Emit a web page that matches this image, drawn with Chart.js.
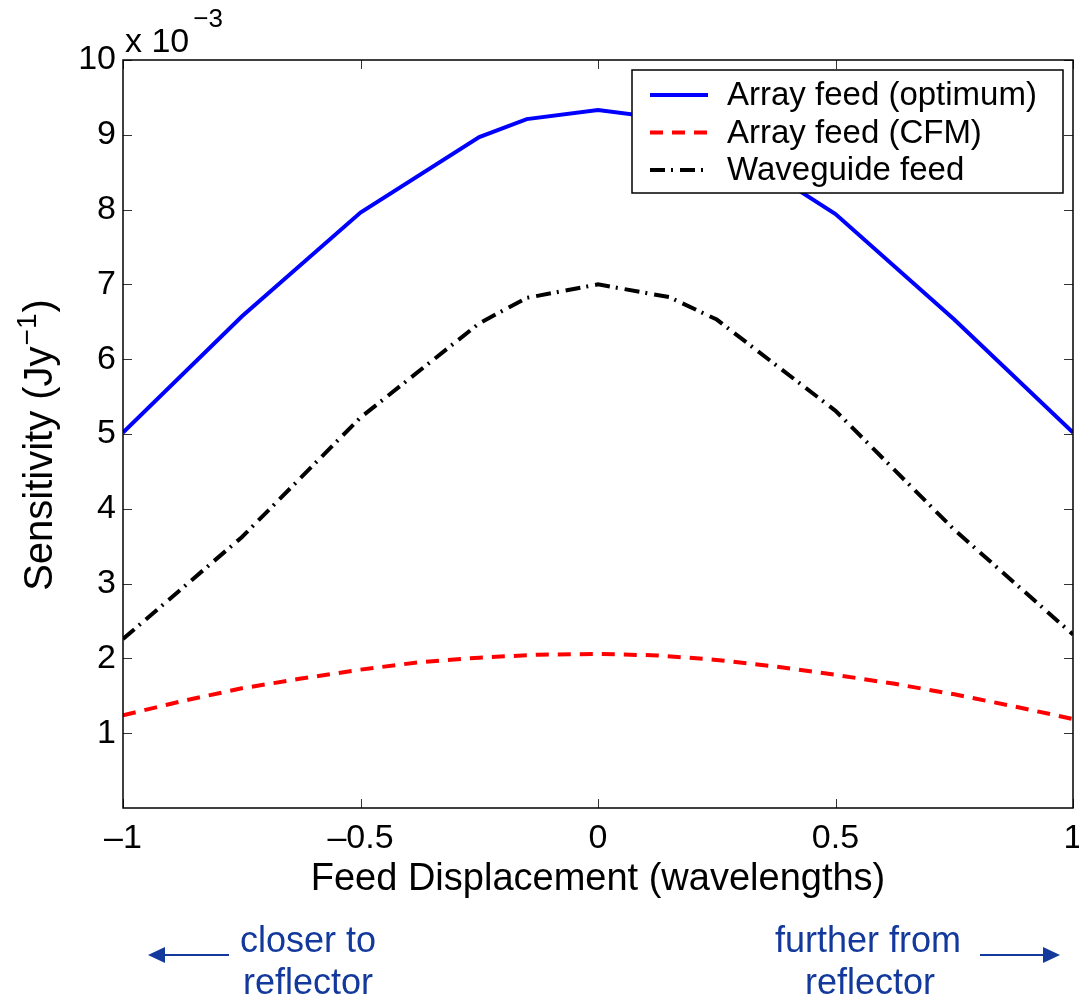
<!DOCTYPE html>
<html>
<head>
<meta charset="utf-8">
<script src="https://cdn.jsdelivr.net/npm/chart.js@4"></script>
<style>
  html, body { margin: 0; padding: 0; background: #ffffff; }
  #wrap { width: 1079px; height: 1001px; }
</style>
</head>
<body>
<div id="wrap"><canvas id="c" width="1079" height="1001"></canvas></div>
<script>
// ---- data (sensitivity in units of 1e-3 Jy^-1) ----
const xCoarse = [-1, -0.75, -0.5, -0.25, -0.15, 0, 0.15, 0.25, 0.5, 0.75, 1];
const sensOptimum = [5.02, 6.57, 7.96, 8.97, 9.21, 9.33, 9.21, 8.96, 7.94, 6.53, 5.02];
const sensWaveguide = [2.26, 3.62, 5.22, 6.48, 6.82, 7.00, 6.83, 6.53, 5.31, 3.72, 2.32];
const xFine = [-1, -0.875, -0.75, -0.625, -0.5, -0.375, -0.25, -0.125, 0, 0.125, 0.25, 0.375, 0.5, 0.625, 0.75, 0.875, 1];
const sensCFM = [1.24, 1.43, 1.60, 1.73, 1.85, 1.95, 2.01, 2.05, 2.06, 2.04, 1.98, 1.89, 1.78, 1.66, 1.52, 1.36, 1.19];
const seriesLabels = ['Array feed (optimum)', 'Array feed (CFM)', 'Waveguide feed'];
const xTickValues = [-1, -0.5, 0, 0.5, 1];
const yTickValues = [1, 2, 3, 4, 5, 6, 7, 8, 9, 10];
const xTitle = 'Feed Displacement (wavelengths)';
const yTitleMain = 'Sensitivity (Jy';
const yTitleSup = '\u22121';
const yTitleEnd = ')';
const exponentBase = 'x 10';
const exponentSup = '\u22123';
const leftNote = ['closer to', 'reflector'];
const rightNote = ['further from', 'reflector'];

const FONT = "'Liberation Sans', Arial, Helvetica, sans-serif";
const NOTE_COLOR = '#12399b';

function pairs(xs, ys) { return xs.map((x, i) => ({ x: x, y: ys[i] })); }
function fmt(v) {
  if (Math.abs(v) < 1e-9) return '0';
  return (v < 0 ? '\u2013' : '') + String(Math.abs(v));
}

const decorPlugin = {
  id: 'decor',
  afterDraw(chart) {
    const ctx = chart.ctx;
    const a = chart.chartArea;
    const xs = chart.scales.x, ys = chart.scales.y;
    ctx.save();
    // inward ticks on all four sides
    ctx.strokeStyle = '#333';
    ctx.lineWidth = 1;
    const TL = 9;
    xTickValues.forEach(v => {
      const px = Math.round(xs.getPixelForValue(v)) + 0.5;
      ctx.beginPath();
      ctx.moveTo(px, a.bottom); ctx.lineTo(px, a.bottom - TL);
      ctx.moveTo(px, a.top); ctx.lineTo(px, a.top + TL);
      ctx.stroke();
    });
    yTickValues.forEach(v => {
      const py = Math.round(ys.getPixelForValue(v)) + 0.5;
      ctx.beginPath();
      ctx.moveTo(a.left, py); ctx.lineTo(a.left + TL, py);
      ctx.moveTo(a.right, py); ctx.lineTo(a.right - TL, py);
      ctx.stroke();
    });
    // box
    ctx.strokeStyle = '#000';
    ctx.lineWidth = 1.5;
    ctx.strokeRect(a.left, a.top, a.right - a.left, a.bottom - a.top);

    // exponent label
    ctx.fillStyle = '#000';
    ctx.textBaseline = 'alphabetic';
    ctx.textAlign = 'left';
    ctx.font = '34px ' + FONT;
    ctx.fillText(exponentBase, a.left + 2, a.top - 8);
    const wb = ctx.measureText(exponentBase).width;
    ctx.font = '26px ' + FONT;
    ctx.fillText(exponentSup, a.left + 2 + wb + 4, a.top - 33);

    // y title with superscript
    ctx.save();
    ctx.translate(52, 445);
    ctx.rotate(-Math.PI / 2);
    ctx.font = '40px ' + FONT;
    const w1 = ctx.measureText(yTitleMain).width;
    const w3 = ctx.measureText(yTitleEnd).width;
    ctx.font = '28px ' + FONT;
    const w2 = ctx.measureText(yTitleSup).width;
    let x0 = -(w1 + w2 + w3 + 2) / 2;
    ctx.font = '40px ' + FONT;
    ctx.fillText(yTitleMain, x0, 0);
    ctx.font = '28px ' + FONT;
    ctx.fillText(yTitleSup, x0 + w1 + 1, -16);
    ctx.font = '40px ' + FONT;
    ctx.fillText(yTitleEnd, x0 + w1 + w2 + 2, 0);
    ctx.restore();

    // legend box
    const lw = 431, lh = 123;
    const lx = a.right - 10 - lw, ly = a.top + 10;
    ctx.fillStyle = '#fff';
    ctx.fillRect(lx, ly, lw, lh);
    ctx.strokeStyle = '#000';
    ctx.lineWidth = 1.5;
    ctx.strokeRect(lx, ly, lw, lh);
    chart.data.datasets.forEach((ds, i) => {
      const cy = ly + 25 + i * 37.5;
      ctx.save();
      ctx.strokeStyle = ds.borderColor;
      ctx.lineWidth = ds.borderWidth;
      ctx.setLineDash(ds.borderDash || []);
      ctx.beginPath();
      ctx.moveTo(lx + 18, cy); ctx.lineTo(lx + 76, cy);
      ctx.stroke();
      ctx.restore();
      ctx.fillStyle = '#000';
      ctx.font = '33px ' + FONT;
      ctx.textBaseline = 'middle';
      ctx.textAlign = 'left';
      ctx.fillText(ds.label, lx + 95, cy + 1);
    });

    // direction notes
    ctx.fillStyle = NOTE_COLOR;
    ctx.strokeStyle = NOTE_COLOR;
    ctx.font = '36px ' + FONT;
    ctx.textAlign = 'center';
    ctx.textBaseline = 'alphabetic';
    ctx.fillText(leftNote[0], 308, 952);
    ctx.fillText(leftNote[1], 308, 994);
    ctx.fillText(rightNote[0], 868, 952);
    ctx.fillText(rightNote[1], 870, 994);
    const ay = 955;
    ctx.lineWidth = 2;
    ctx.beginPath(); ctx.moveTo(229, ay); ctx.lineTo(160, ay); ctx.stroke();
    ctx.beginPath(); ctx.moveTo(148, ay); ctx.lineTo(165, ay - 8); ctx.lineTo(165, ay + 8); ctx.closePath(); ctx.fill();
    ctx.beginPath(); ctx.moveTo(980, ay); ctx.lineTo(1048, ay); ctx.stroke();
    ctx.beginPath(); ctx.moveTo(1060, ay); ctx.lineTo(1043, ay - 8); ctx.lineTo(1043, ay + 8); ctx.closePath(); ctx.fill();
    ctx.restore();
  }
};

Chart.defaults.color = '#000';
Chart.defaults.font.family = FONT;

new Chart(document.getElementById('c'), {
  type: 'line',
  data: {
    datasets: [
      { label: seriesLabels[0], data: pairs(xCoarse, sensOptimum), borderColor: '#0000ff', borderWidth: 4, borderDash: [], pointRadius: 0, tension: 0, fill: false },
      { label: seriesLabels[1], data: pairs(xFine, sensCFM), borderColor: '#ff0000', borderWidth: 4, borderDash: [13, 9], pointRadius: 0, tension: 0, fill: false },
      { label: seriesLabels[2], data: pairs(xCoarse, sensWaveguide), borderColor: '#000000', borderWidth: 4, borderDash: [15, 6, 2, 7], pointRadius: 0, tension: 0, fill: false }
    ]
  },
  options: {
    responsive: false,
    animation: false,
    layout: { padding: { top: 60, right: 6, bottom: 99, left: 0 } },
    plugins: { legend: { display: false }, tooltip: { enabled: false } },
    scales: {
      x: {
        type: 'linear', min: -1, max: 1,
        grid: { display: false, drawTicks: false },
        border: { display: false },
        afterBuildTicks: s => { s.ticks = xTickValues.map(v => ({ value: v })); },
        ticks: { padding: 10, maxRotation: 0, autoSkip: false, color: '#000', font: { size: 34, family: FONT }, callback: v => fmt(v) },
        title: { display: true, text: xTitle, color: '#000', padding: 0, font: { size: 38, family: FONT } },
        afterFit: s => { s.height = 94; s.paddingLeft = 0; s.paddingRight = 0; }
      },
      y: {
        min: 0, max: 10,
        grid: { display: false, drawTicks: false },
        border: { display: false },
        afterBuildTicks: s => { s.ticks = yTickValues.map(v => ({ value: v })); },
        ticks: { padding: 7, color: '#000', font: { size: 34, family: FONT }, callback: v => fmt(v) },
        afterFit: s => { s.width = 123; s.paddingTop = 0; s.paddingBottom = 0; }
      }
    }
  },
  plugins: [decorPlugin]
});
</script>
</body>
</html>
